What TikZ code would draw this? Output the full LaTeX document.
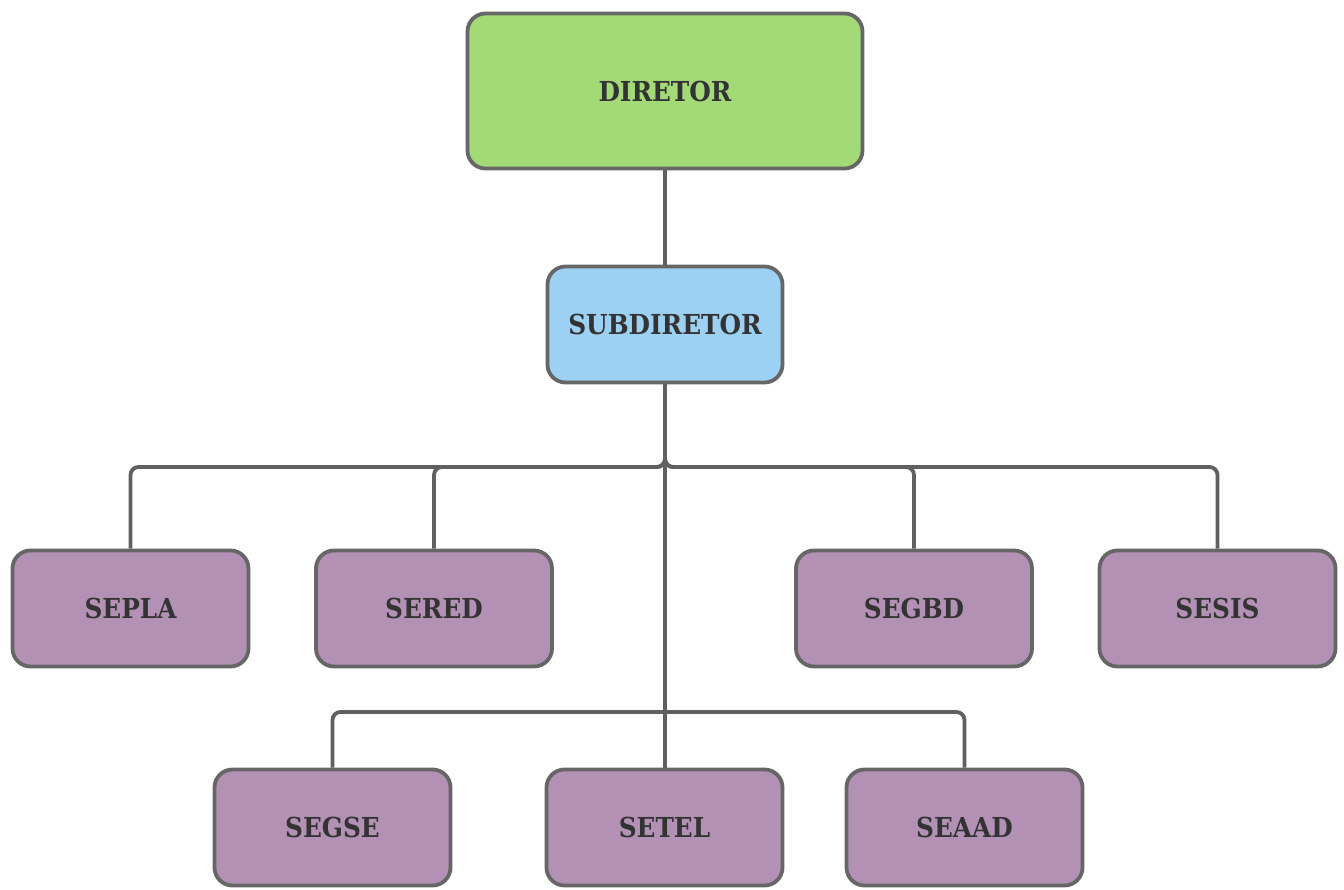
\documentclass[tikz,border=0pt]{standalone}
\usepackage{fontspec}
\setmainfont{DejaVu Serif Condensed}
\definecolor{linegray}{RGB}{96,96,96}
\definecolor{bordergray}{RGB}{102,102,102}
\definecolor{txtgray}{RGB}{51,51,51}
\definecolor{greenfill}{RGB}{163,217,119}
\definecolor{bluefill}{RGB}{157,209,243}
\definecolor{purplefill}{RGB}{179,145,181}
\begin{document}
\begin{tikzpicture}[x=1pt,y=-1pt,
  box/.style={draw=bordergray, line width=3.8pt, rounded corners=18pt, inner sep=0pt,
    minimum width=236pt, minimum height=116pt, text=txtgray,
    font=\fontsize{27.5}{32}\selectfont\bfseries},
  greenbox/.style={box, fill=greenfill, minimum width=395pt, minimum height=155pt},
  bluebox/.style={box, fill=bluefill, minimum width=235pt},
  purplebox/.style={box, fill=purplefill},
  conn/.style={draw=linegray, line width=3.8pt, rounded corners=8pt}]
\useasboundingbox (0,0) rectangle (1344,890);
\fill[white] (0,0) rectangle (1344,890);
\coordinate (bus1) at (665,467);
\coordinate (bus2) at (665,712);
\node[greenbox] (dir) at (665,91) {DIRETOR};
\node[bluebox] (sub) at (665,324.5) {SUBDIRETOR};
\node[purplebox] (sepla) at (130.5,608.5) {SEPLA};
\node[purplebox] (sered) at (434,608.5) {SERED};
\node[purplebox] (segbd) at (914,608.5) {SEGBD};
\node[purplebox] (sesis) at (1217.5,608.5) {SESIS};
\node[purplebox] (segse) at (332.5,827.5) {SEGSE};
\node[purplebox] (setel) at (664.5,827.5) {SETEL};
\node[purplebox] (seaad) at (964.5,827.5) {SEAAD};
\path[conn] (dir.south) -- (sub.north);
\path[conn] (sub.south) |- (sepla.north |- bus1) -- (sepla.north);
\path[conn] (sub.south) |- (sered.north |- bus1) -- (sered.north);
\path[conn] (sub.south) |- (segbd.north |- bus1) -- (segbd.north);
\path[conn] (sub.south) |- (sesis.north |- bus1) -- (sesis.north);
\path[conn] (sub.south) -- (sub.south |- setel.north);
\path[conn] (bus2) -| (segse.north);
\path[conn] (bus2) -| (seaad.north);
\end{tikzpicture}
\end{document}
